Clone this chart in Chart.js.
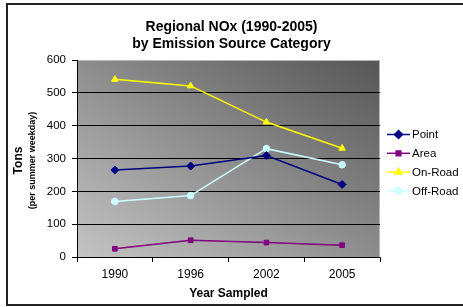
<!DOCTYPE html>
<html>
<head>
<meta charset="utf-8">
<script src="https://cdn.jsdelivr.net/npm/chart.js@4/dist/chart.umd.min.js"></script>
<style>
  html, body { margin: 0; padding: 0; background: #fff; }
  #wrap { width: 463px; height: 307px; position: relative; }
</style>
</head>
<body>
<div id="wrap"><canvas id="c" width="463" height="307"></canvas></div>
<script>
const years = ['1990', '1996', '2002', '2005'];
const pointSrc = [265, 277, 309, 221];
const areaSrc = [25, 51, 44, 36];
const onRoadSrc = [541, 521, 411, 331];
const offRoadSrc = [169, 187, 330, 281];
const seriesNames = ['Point', 'Area', 'On-Road', 'Off-Road'];
const titleLines = ['Regional NOx (1990-2005)', 'by Emission Source Category'];
const xTitle = 'Year Sampled';
const yTitle = 'Tons';
const ySubTitle = '(per summer weekday)';

const FONT = 'Arial, "Liberation Sans", Helvetica, sans-serif';

const bgPlugin = {
  id: 'bg',
  beforeDraw(chart) {
    const ctx = chart.ctx;
    const a = chart.chartArea;
    ctx.save();
    ctx.fillStyle = '#ffffff';
    ctx.fillRect(0, 0, chart.width, chart.height);
    // outer frame (left, top, bottom)
    ctx.strokeStyle = '#222222';
    ctx.lineWidth = 2;
    ctx.beginPath();
    ctx.moveTo(chart.width + 2, 4);
    ctx.lineTo(7, 4);
    ctx.lineTo(7, 305);
    ctx.lineTo(chart.width + 2, 305);
    ctx.stroke();
    // plot area gradient
    const w = a.right - a.left, h = a.bottom - a.top;
    const d2 = w * w + h * h;
    const t = (2 * w * h) / d2;
    const g = ctx.createLinearGradient(a.left, a.bottom, a.left + t * h, a.bottom - t * w);
    g.addColorStop(0, '#c4c4c4');
    g.addColorStop(1, '#565656');
    ctx.fillStyle = g;
    ctx.fillRect(a.left, a.top, w, h);
    ctx.strokeStyle = '#b8b8b8';
    ctx.lineWidth = 1;
    ctx.beginPath();
    ctx.moveTo(a.left, a.top + 0.5);
    ctx.lineTo(a.right - 0.5, a.top + 0.5);
    ctx.lineTo(a.right - 0.5, a.bottom);
    ctx.stroke();
    ctx.restore();
  },
  afterDraw(chart) {
    const ctx = chart.ctx;
    const a = chart.chartArea;
    ctx.save();
    // y axis titles
    const cy = (a.top + a.bottom) / 2 + 2;
    ctx.fillStyle = '#000';
    ctx.textAlign = 'center';
    ctx.textBaseline = 'middle';
    ctx.translate(19, cy);
    ctx.rotate(-Math.PI / 2);
    ctx.font = 'bold 12px ' + FONT;
    ctx.fillText(yTitle, 0, 0);
    ctx.restore();
    ctx.save();
    ctx.fillStyle = '#000';
    ctx.textAlign = 'center';
    ctx.textBaseline = 'middle';
    ctx.translate(32.5, cy);
    ctx.rotate(-Math.PI / 2);
    ctx.font = 'bold 9px ' + FONT;
    ctx.fillText(ySubTitle, 0, 0);
    ctx.restore();
    // legend
    ctx.save();
    chart.data.datasets.forEach((ds, i) => {
      const y = 134.5 + i * 18.8;
      ctx.strokeStyle = ds.borderColor;
      ctx.lineWidth = ds.borderWidth;
      ctx.beginPath();
      ctx.moveTo(387, y);
      ctx.lineTo(410, y);
      ctx.stroke();
      ctx.fillStyle = ds.pointBackgroundColor;
      ctx.strokeStyle = ds.pointBorderColor;
      Chart.helpers.drawPoint(ctx, {
        pointStyle: ds.pointStyle, radius: ds.pointRadius, borderWidth: 1, rotation: 0
      }, 398.5, y);
      ctx.fillStyle = '#000';
      ctx.font = '11.5px ' + FONT;
      ctx.textAlign = 'left';
      ctx.textBaseline = 'middle';
      ctx.fillText(ds.label, 412, y + 0.5);
    });
    ctx.restore();
  }
};

function mkDs(label, data, color, style, radius) {
  return {
    label, data,
    borderColor: color, backgroundColor: color,
    pointBackgroundColor: color, pointBorderColor: color,
    pointStyle: style, pointRadius: radius, pointBorderWidth: 1,
    borderWidth: 1.5, tension: 0, fill: false, yAxisID: 'y'
  };
}

new Chart(document.getElementById('c'), {
  type: 'line',
  data: {
    labels: years,
    datasets: [
      mkDs(seriesNames[0], pointSrc, '#000080', 'rectRot', 4),
      mkDs(seriesNames[1], areaSrc, '#800080', 'rect', 3.3),
      mkDs(seriesNames[2], onRoadSrc, '#ffff00', 'triangle', 3.8),
      mkDs(seriesNames[3], offRoadSrc, '#ccffff', 'circle', 3.3)
    ]
  },
  options: {
    responsive: false,
    animation: false,
    devicePixelRatio: 1,
    layout: { padding: 0 },
    plugins: {
      legend: { display: false },
      tooltip: { enabled: false },
      title: {
        display: true,
        text: titleLines,
        color: '#000',
        font: { family: FONT, size: 14, weight: 'bold', lineHeight: 1.25 },
        padding: { top: 18, bottom: 7 }
      }
    },
    scales: {
      x: {
        type: 'category',
        offset: true,
        grid: { offset: true, drawOnChartArea: false, color: '#000', tickColor: '#000', tickLength: 5 },
        border: { color: '#000', width: 1 },
        ticks: { color: '#000', font: { family: FONT, size: 12 }, padding: 5, maxRotation: 0 },
        title: {
          display: true, text: xTitle, color: '#000',
          font: { family: FONT, size: 12, weight: 'bold' },
          padding: { top: 2, bottom: 6 }
        },
        afterFit: s => { s.height = 50; }
      },
      y: {
        min: 0, max: 600,
        ticks: { stepSize: 100, color: '#000', font: { family: FONT, size: 11.5 }, padding: 6 },
        grid: {
          color: c => (c.tick && (c.tick.value === 600 || c.tick.value === 0)) ? 'rgba(0,0,0,0)' : '#000',
          tickColor: '#000', tickLength: 5, lineWidth: 1
        },
        border: { color: '#000', width: 1 },
        afterFit: s => { s.width = 77; }
      },
      y2: {
        type: 'linear', position: 'right', display: true,
        grid: { display: false, drawTicks: false },
        ticks: { display: false },
        border: { display: false },
        afterFit: s => { s.width = 83; }
      }
    }
  },
  plugins: [bgPlugin]
});
</script>
</body>
</html>
